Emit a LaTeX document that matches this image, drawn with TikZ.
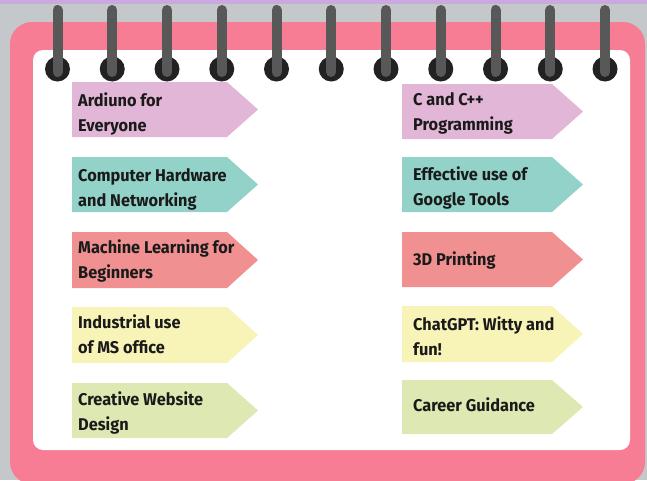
\documentclass[tikz,border=0pt]{standalone}
\usepackage{fontspec}
\newfontfamily\lblfont{Fira Sans}[FakeStretch=0.96]
\definecolor{bggray}{HTML}{C5C8CA}
\definecolor{lav}{HTML}{C9A9DE}
\definecolor{pinkc}{HTML}{F77D94}
\definecolor{bar}{HTML}{585858}
\definecolor{ringc}{HTML}{222222}
\definecolor{cA}{HTML}{E2B6D6}
\definecolor{cB}{HTML}{92D2C8}
\definecolor{cC}{HTML}{F09090}
\definecolor{cD}{HTML}{F8F4B8}
\definecolor{cE}{HTML}{DEE8B2}
\definecolor{txt}{HTML}{1A1A1A}
\tikzset{
  lbl/.style={anchor=north west, inner sep=0pt, align=left, text=txt,
    font=\lblfont\bfseries\fontsize{17}{25}\selectfont},
  lbl1/.style={anchor=base west, inner sep=0pt, text=txt,
    font=\lblfont\bfseries\fontsize{17}{25}\selectfont},
}
\begin{document}
\begin{tikzpicture}[x=1pt,y=-1pt]
\useasboundingbox (0,0) rectangle (647,480);
\fill[bggray] (0,0) rectangle (647,480);
\fill[lav] (0,0) rectangle (647,4);
\fill[pinkc, rounded corners=22] (10,22) rectangle (645,484);
\fill[white, rounded corners=10] (33,50) rectangle (630,450);
% rings
\foreach \i in {0,...,10}{
  \pgfmathsetmacro\rx{57.5+54.75*\i}
  \fill[ringc] (\rx,69) circle (12.5);
  \draw[bar, line width=10pt, line cap=round] (\rx,10) -- (\rx,72);
}
% banners
\foreach \ya/\yb/\col in {82/137/cA,157/212/cB,232/288/cC,307/363/cD,383/438/cE}{
  \fill[\col] (72,\ya) -- (227,\ya) -- (258,{(\ya+\yb)/2}) -- (227,\yb) -- (72,\yb) -- cycle;
}
\foreach \ya/\yb/\col in {84/139/cA,157/212/cB,232/287/cC,306/362/cD,380/434/cE}{
  \fill[\col] (402,\ya) -- (552,\ya) -- (583,{(\ya+\yb)/2}) -- (552,\yb) -- (402,\yb) -- cycle;
}
% texts
\node[lbl] (t1) at (78,92.5) {Ardiuno for\\Everyone};
\node[lbl] (t2) at (78,168.5) {Computer Hardware\\and Networking};
\node[lbl] (t3) at (78,239.5) {Machine Learning for\\Beginners};
\node[lbl] (t4) at (78,314.5) {Industrial use\\of MS office};
\node[lbl] (t5) at (78,391.5) {Creative Website\\Design};
\node[lbl] (t6) at (413,92.5) {C and C++\\Programming};
\node[lbl] (t7) at (413,166.5) {Effective use of\\Google Tools};
\node[lbl1] (t8) at (413,265) {3D Printing};
\node[lbl] (t9) at (413,316.5) {ChatGPT: Witty and\\fun!};
\node[lbl1] (t10) at (413,411) {Career Guidance};
\end{tikzpicture}
\end{document}
